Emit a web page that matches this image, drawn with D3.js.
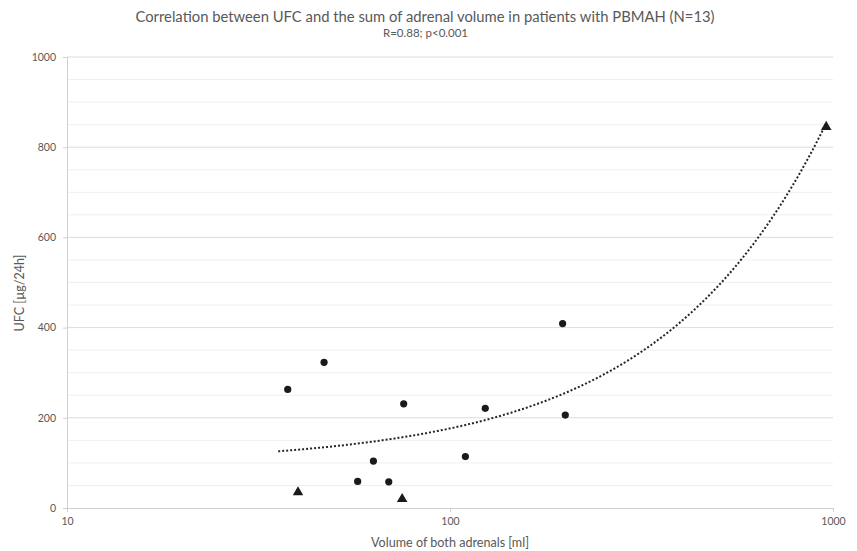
<!DOCTYPE html>
<html><head><meta charset="utf-8">
<script src="https://cdn.jsdelivr.net/npm/d3@7"></script>
<style>body{margin:0;background:#fff}svg{display:block}text{font-family:Lato,"Open Sans",sans-serif}</style>
</head><body><svg id="c" width="857" height="551"></svg>
<script>
const circleX = [37.7, 46.9, 75.7, 123.6, 63.1, 57.4, 69.2, 109.7, 196.8, 200];
const circleY = [263, 323, 231, 221, 104, 59, 58, 114, 409, 206];
const triangleX = [40.1, 75, 960];
const triangleY = [35, 20, 845];
const xTicks = [10, 100, 1000];
const yTicks = [0, 200, 400, 600, 800, 1000];
const yMinor = [50,100,150,250,300,350,450,500,550,650,700,750,850,900,950];
const trendStart = 35.6;
const title = "Correlation between UFC and the sum of adrenal volume in patients with PBMAH (N=13)";
const subtitle = "R=0.88; p<0.001";

const svg = d3.select("#c");
const L=67, R=833, T=57, B=508;
const x = d3.scaleLog().domain([10,1000]).range([L,R]);
const y = d3.scaleLinear().domain([0,1000]).range([B,T]);

svg.append("g").selectAll("line").data(yMinor).join("line")
  .attr("x1",L).attr("x2",R).attr("y1",d=>y(d)).attr("y2",d=>y(d))
  .attr("stroke","#efefef").attr("stroke-width",1);
svg.append("g").selectAll("line").data(yTicks.filter(d=>d>0)).join("line")
  .attr("x1",L).attr("x2",R).attr("y1",d=>y(d)).attr("y2",d=>y(d))
  .attr("stroke","#dcdcdc").attr("stroke-width",1);

const gy = svg.append("g").attr("transform",`translate(${L},0)`)
  .call(d3.axisLeft(y).tickValues(yTicks).tickSize(4).tickPadding(7).tickFormat(d3.format("d")));
const gx = svg.append("g").attr("transform",`translate(0,${B})`)
  .call(d3.axisBottom(x).tickValues(xTicks).tickSize(4).tickPadding(6).tickFormat(d3.format("d")));
[gy,gx].forEach(g=>{
  g.select(".domain").attr("stroke","#d0d0d0");
  g.selectAll(".tick line").attr("stroke","#d0d0d0");
  g.selectAll(".tick text").attr("fill","#595959").attr("font-size",10.5).attr("font-family","Lato,'Open Sans',sans-serif");
});

// linear regression trendline
const allX = circleX.concat(triangleX), allY = circleY.concat(triangleY);
const mx = d3.mean(allX), my = d3.mean(allY);
const b = d3.sum(allX.map((v,i)=>(v-mx)*(allY[i]-my))) / d3.sum(allX.map(v=>(v-mx)*(v-mx)));
const a = my - b*mx;
const xmax = d3.max(allX);
const pts = d3.range(0,201).map(i=>{const lx=Math.log10(trendStart)+(Math.log10(xmax)-Math.log10(trendStart))*i/200; const xv=Math.pow(10,lx); return [xv,a+b*xv];});
svg.append("path").datum(pts)
  .attr("d", d3.line().x(d=>x(d[0])).y(d=>y(d[1])))
  .attr("fill","none").attr("stroke","#262626").attr("stroke-width",2).attr("stroke-dasharray","2,2");

svg.append("g").selectAll("circle").data(circleX).join("circle")
  .attr("cx",d=>x(d)).attr("cy",(d,i)=>y(circleY[i])).attr("r",3.6).attr("fill","#1a1a1a");
svg.append("g").selectAll("path").data(triangleX).join("path")
  .attr("transform",(d,i)=>`translate(${x(d)},${y(triangleY[i])})`)
  .attr("d", d3.symbol().type(d3.symbolTriangle).size(48)).attr("fill","#1a1a1a");

svg.append("text").attr("x",425).attr("y",21.5).attr("text-anchor","middle")
  .attr("font-size",14.8).attr("fill","#595959").text(title);
svg.append("text").attr("x",425.5).attr("y",36.5).attr("text-anchor","middle")
  .attr("font-size",11.5).attr("fill","#595959").text(subtitle);
svg.append("text").attr("x",450).attr("y",547).attr("text-anchor","middle")
  .attr("font-size",12.6).attr("fill","#595959").text("Volume of both adrenals [ml]");
svg.append("text").attr("transform","translate(24,293) rotate(-90)").attr("text-anchor","middle")
  .attr("font-size",12.5).attr("fill","#595959").text("UFC [µg/24h]");
</script></body></html>
